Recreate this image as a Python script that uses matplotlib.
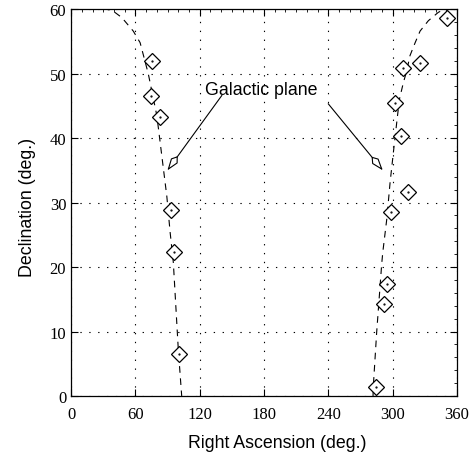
import numpy as np
import matplotlib.pyplot as plt
from matplotlib.patches import Polygon

# source positions (RA, Dec) in degrees
ra = [75.5, 74.9, 83.0, 93.0, 96.1, 100.7,
      350.4, 310.0, 325.6, 302.2, 307.5, 314.6, 298.5, 294.5, 292.0, 284.2]
dec = [52.0, 46.6, 43.2, 28.9, 22.4, 6.5,
       58.7, 50.8, 51.6, 45.5, 40.3, 31.7, 28.5, 17.4, 14.3, 1.4]

# galactic plane
gp_left_ra = [30, 40, 47.3, 58, 64.4, 72, 80, 89.3, 92.4, 95.4, 100, 103.2]
gp_left_dec = [60.2, 59.6, 58.7, 56.6, 54.8, 50.0, 43.5, 31.0, 25.4, 20.7, 7.3, 0.0]
gp_right_ra = [281.7, 282, 285.1, 289.8, 290.8, 294.5, 297.6, 300.7, 303.8,
               306.3, 310, 313.1, 316.2, 321, 325.6, 333.3, 342.6, 352]
gp_right_dec = [0.0, 1.6, 9.9, 20.5, 22.3, 27.4, 33.1, 37.8, 42.4,
                46.0, 48.6, 50.4, 52.8, 54.8, 56.6, 58.2, 59.5, 60.3]

xticks = [0, 60, 120, 180, 240, 300, 360]
yticks = [0, 10, 20, 30, 40, 50, 60]

serif = 'Liberation Serif'
sans = 'Liberation Sans'

fig = plt.figure(figsize=(4.77, 4.60), dpi=100)
ax = fig.add_axes([0.149, 0.137, 0.809, 0.841])

ax.plot(gp_left_ra, gp_left_dec, color='black', lw=0.8, dashes=(6, 5))
ax.plot(gp_right_ra, gp_right_dec, color='black', lw=0.8, dashes=(6, 5))
ax.plot(ra, dec, linestyle='none', marker='D', ms=8.5, mfc='white',
        mec='black', mew=0.9)
ax.plot(ra, dec, linestyle='none', marker='.', ms=1.2, color='black')

ax.set_xlim(0, 360)
ax.set_ylim(0, 60)
ax.set_xticks(xticks)
ax.set_yticks(yticks)
ax.set_xticks(np.arange(0, 361, 10), minor=True)
ax.set_yticks(np.arange(0, 61, 2), minor=True)
ax.set_xticklabels([str(t) for t in xticks], family=serif, fontsize=12)
ax.set_yticklabels([str(t) for t in yticks], family=serif, fontsize=12)
ax.tick_params(direction='in', top=True, right=True, length=5, width=0.8)
ax.tick_params(axis='x', pad=7)
ax.tick_params(which='minor', direction='in', top=True, right=True,
               bottom=False, left=False, length=2, width=0.6)
ax.grid(True, color='black', linestyle=(0, (1.2, 6.8)), linewidth=0.8)

ax.set_xlabel('Right Ascension (deg.)', family=sans, fontsize=12.8)
ax.set_ylabel('Declination (deg.)', family=sans, fontsize=12.8)
ax.xaxis.set_label_coords(0.534, -0.098)
ax.yaxis.set_label_coords(-0.09, 0.49)

ax.text(177.7, 47.6, 'Galactic plane', family=sans, fontsize=12.8,
        ha='center', va='center')


def kite_arrow(x0, y0, x1, y1):
    # line with an open kite-shaped head, built in pixel space
    ax.plot([x0, x1], [y0, y1], color='black', lw=0.8)
    p0 = ax.transData.transform((x0, y0))
    p1 = ax.transData.transform((x1, y1))
    d = (p1 - p0) / np.hypot(*(p1 - p0))
    n = np.array([-d[1], d[0]])
    back = p1 - 15 * d
    mid = p1 - 10 * d
    pts = np.array([back, mid + 3.5 * n, p1, mid - 3.5 * n])
    pts = ax.transData.inverted().transform(pts)
    ax.add_patch(Polygon(pts, closed=True, fc='white', ec='black', lw=0.8,
                         zorder=3))


kite_arrow(140.6, 46.6, 90.8, 35.2)
kite_arrow(240.0, 45.3, 289.8, 35.2)

for s in ax.spines.values():
    s.set_linewidth(0.9)

fig.savefig('out.png', dpi=100)
